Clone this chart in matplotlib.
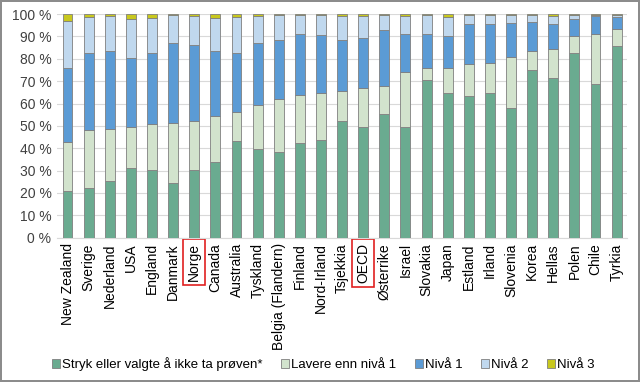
import matplotlib
matplotlib.use("Agg")
import matplotlib.pyplot as plt
import numpy as np

plt.rcParams['font.family'] = ['Liberation Sans', 'DejaVu Sans']

countries = ["New Zealand", "Sverige", "Nederland", "USA", "England", "Danmark",
             "Norge", "Canada", "Australia", "Tyskland", "Belgia (Flandern)",
             "Finland", "Nord-Irland", "Tsjekkia", "OECD", "Østerrike", "Israel",
             "Slovakia", "Japan", "Estland", "Irland", "Slovenia", "Korea",
             "Hellas", "Polen", "Chile", "Tyrkia"]

stryk = [20.7, 22.4, 25.5, 31.3, 30.4, 24.6, 30.4, 33.9, 43.4, 39.6, 38.1, 42.5,
         43.6, 52.1, 49.3, 55.4, 49.4, 70.4, 64.6, 63.3, 64.5, 57.8, 74.8, 71.5,
         82.4, 68.8, 85.8]
lavere = [22.1, 25.7, 23.3, 18.1, 20.5, 26.9, 21.8, 20.6, 12.7, 19.8, 23.8, 21.5,
          21.3, 13.7, 17.6, 12.4, 24.5, 5.6, 11.4, 14.6, 13.7, 23.1, 8.5, 12.7,
          8.0, 22.4, 7.6]
niva1 = [33.2, 34.7, 34.6, 31.0, 31.6, 35.4, 33.8, 29.2, 26.7, 27.6, 26.5, 27.3,
         25.8, 22.6, 22.5, 25.2, 17.4, 15.0, 14.3, 17.5, 17.2, 15.1, 13.1, 11.2,
         7.4, 7.9, 5.4]
niva2 = [20.9, 16.0, 15.7, 17.4, 15.9, 12.7, 13.1, 14.4, 15.7, 12.0, 11.0, 8.4,
         9.0, 10.7, 9.7, 6.7, 7.8, 8.7, 8.5, 4.3, 4.3, 3.7, 3.3, 3.9, 1.9, 0.7, 0.9]
niva3 = [3.1, 1.2, 0.9, 2.2, 1.6, 0.4, 0.9, 1.9, 1.5, 1.0, 0.6, 0.3, 0.3, 0.9,
         0.9, 0.3, 0.9, 0.3, 1.2, 0.3, 0.3, 0.3, 0.3, 0.7, 0.3, 0.2, 0.3]

series = [
    ("Stryk eller valgte å ikke ta prøven*", stryk, "#6aab90"),
    ("Lavere enn nivå 1", lavere, "#d2e3cd"),
    ("Nivå 1", niva1, "#5b9bd5"),
    ("Nivå 2", niva2, "#c0d8ee"),
    ("Nivå 3", niva3, "#c8c81e"),
]
highlight = ["Norge", "OECD"]

fig = plt.figure(figsize=(6.4, 3.82), dpi=100, edgecolor="#8c8c8c", linewidth=1.5)
ax = fig.add_axes([0.089, 0.378, 0.891, 0.585])

x = np.arange(len(countries))
bottom = np.zeros(len(countries))
for name, vals, col in series:
    vals = np.array(vals)
    ax.bar(x, vals, 0.47, bottom=bottom, color=col, edgecolor="#7f7f7f",
           linewidth=0.6, label=name, zorder=3)
    bottom += vals

ax.set_xlim(-0.5, len(countries) - 0.5)
ax.set_ylim(0, 100)
ax.set_yticks(range(0, 101, 10))
ax.set_yticklabels([f"{v} %" for v in range(0, 101, 10)], fontsize=10, color="#404040")
ax.set_xticks(x)
ax.set_xticklabels(countries, rotation=90, fontsize=10)
ax.tick_params(length=0, pad=4)
ax.grid(axis="y", color="#d9d9d9", linewidth=0.8, zorder=0)
for s in ["top", "right", "left"]:
    ax.spines[s].set_visible(False)
ax.spines["bottom"].set_color("#d9d9d9")

for lbl in ax.get_xticklabels():
    if lbl.get_text() in highlight:
        lbl.set_bbox(dict(facecolor="none", edgecolor="#e02020", linewidth=1.2, pad=3))

fig.legend(loc="center", bbox_to_anchor=(0.505, 0.047), ncol=5, frameon=False,
           fontsize=9.5, handlelength=0.6, handleheight=0.6, handletextpad=0.15,
           columnspacing=1.4)

fig.savefig("out.png", dpi=100)
